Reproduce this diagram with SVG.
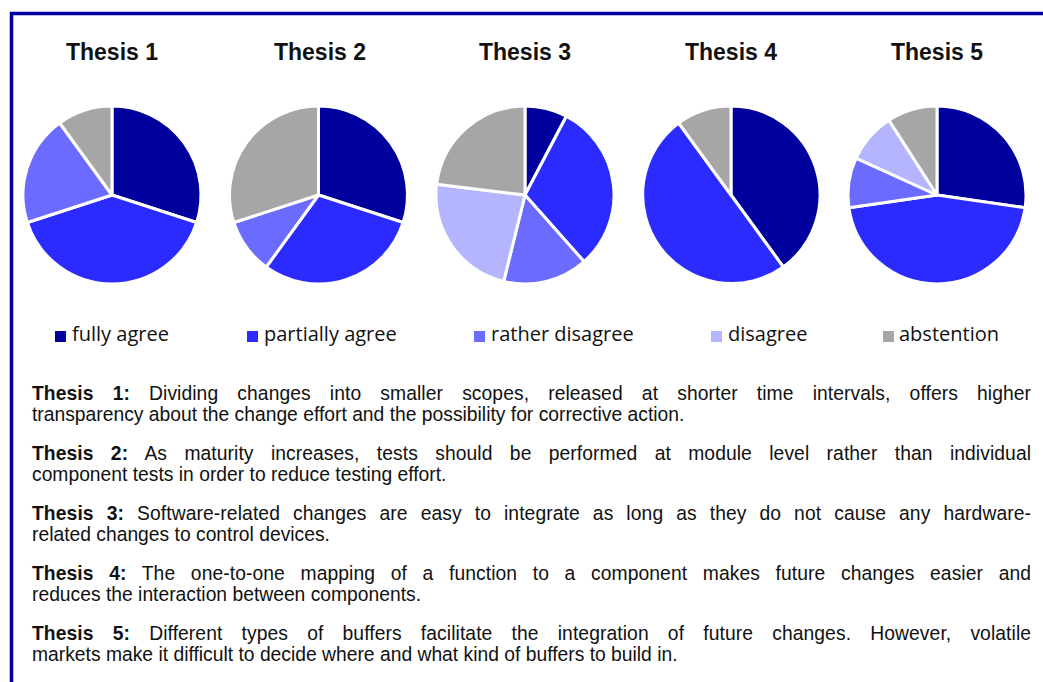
<svg xmlns="http://www.w3.org/2000/svg" width="1043" height="682" viewBox="0 0 1043 682">
<style>
.bg{fill:#ffffff}
.frame{stroke:#0000a0;stroke-width:3.5;fill:none}
.title{font-family:"Liberation Sans",Arial,sans-serif;font-weight:bold;font-size:23px;fill:#111111;text-anchor:middle}
.pie path{stroke:#ffffff;stroke-width:3;stroke-linejoin:round}
.c1{fill:#00009c}
.c2{fill:#2b2bff}
.c3{fill:#6b6bff}
.c4{fill:#b4b4ff}
.c5{fill:#a6a6a6}
.leg{font-family:"Open Sans","Liberation Sans",sans-serif;font-size:20px;fill:#111111}
.body{font-family:"Liberation Sans",Arial,sans-serif;font-size:19.3px;fill:#111111}
.b{font-weight:bold}
</style>
<rect class="bg" x="0" y="0" width="1043" height="682"/>
<g id="frame">
<path class="frame" d="M11.5,682 L11.5,13.5 L1043,13.5"/>
</g>

<g id="thesis1">
<text class="title" x="112" y="60">Thesis 1</text>
<g class="pie">
<path class="c1" d="M112,195 L112,106 A89,89 0 0 1 196.64,222.5 Z"/>
<path class="c2" d="M112,195 L196.64,222.5 A89,89 0 0 1 27.36,222.5 Z"/>
<path class="c3" d="M112,195 L27.36,222.5 A89,89 0 0 1 59.69,123 Z"/>
<path class="c5" d="M112,195 L59.69,123 A89,89 0 0 1 112,106 Z"/>
</g>
</g>

<g id="thesis2">
<text class="title" x="320" y="60">Thesis 2</text>
<g class="pie">
<path class="c1" d="M318.5,195 L318.5,106 A89,89 0 0 1 403.14,222.5 Z"/>
<path class="c2" d="M318.5,195 L403.14,222.5 A89,89 0 0 1 266.19,267 Z"/>
<path class="c3" d="M318.5,195 L266.19,267 A89,89 0 0 1 233.86,222.5 Z"/>
<path class="c5" d="M318.5,195 L233.86,222.5 A89,89 0 0 1 318.5,106 Z"/>
</g>
</g>

<g id="thesis3">
<text class="title" x="525" y="60">Thesis 3</text>
<g class="pie">
<path class="c1" d="M525,195 L525,106 A89,89 0 0 1 566.36,116.19 Z"/>
<path class="c2" d="M525,195 L566.36,116.19 A89,89 0 0 1 584.03,261.61 Z"/>
<path class="c3" d="M525,195 L584.03,261.61 A89,89 0 0 1 503.69,281.41 Z"/>
<path class="c4" d="M525,195 L503.69,281.41 A89,89 0 0 1 436.65,184.27 Z"/>
<path class="c5" d="M525,195 L436.65,184.27 A89,89 0 0 1 525,106 Z"/>
</g>
</g>

<g id="thesis4">
<text class="title" x="731" y="60">Thesis 4</text>
<g class="pie">
<path class="c1" d="M731,195 L731,106 A89,89 0 0 1 783.31,267 Z"/>
<path class="c2" d="M731,195 L783.31,267 A89,89 0 0 1 678.69,123 Z"/>
<path class="c5" d="M731,195 L678.69,123 A89,89 0 0 1 731,106 Z"/>
</g>
</g>

<g id="thesis5">
<text class="title" x="937" y="60">Thesis 5</text>
<g class="pie">
<path class="c1" d="M937,195 L937,106 A89,89 0 0 1 1025.09,207.67 Z"/>
<path class="c2" d="M937,195 L1025.09,207.67 A89,89 0 0 1 848.91,207.67 Z"/>
<path class="c3" d="M937,195 L848.91,207.67 A89,89 0 0 1 856.04,158.03 Z"/>
<path class="c4" d="M937,195 L856.04,158.03 A89,89 0 0 1 888.88,120.13 Z"/>
<path class="c5" d="M937,195 L888.88,120.13 A89,89 0 0 1 937,106 Z"/>
</g>
</g>

<g id="legend">
<rect class="c1" x="55" y="331" width="11" height="11"/>
<text class="leg" x="72" y="341">fully agree</text>
<rect class="c2" x="247" y="331" width="11" height="11"/>
<text class="leg" x="264" y="341">partially agree</text>
<rect class="c3" x="474" y="331" width="11" height="11"/>
<text class="leg" x="491" y="341">rather disagree</text>
<rect class="c4" x="711" y="331" width="11" height="11"/>
<text class="leg" x="728" y="341">disagree</text>
<rect class="c5" x="883" y="331" width="11" height="11"/>
<text class="leg" x="899" y="341">abstention</text>
</g>

<g id="descriptions">
<text class="body" x="32" y="400" word-spacing="13.7" textLength="999" lengthAdjust="spacing"><tspan class="b">Thesis 1:</tspan> Dividing changes into smaller scopes, released at shorter time intervals, offers higher</text>
<text class="body" x="32" y="421">transparency about the change effort and the possibility for corrective action.</text>
<text class="body" x="32" y="460" word-spacing="11.9" textLength="999" lengthAdjust="spacing"><tspan class="b">Thesis 2:</tspan> As maturity increases, tests should be performed at module level rather than individual</text>
<text class="body" x="32" y="481">component tests in order to reduce testing effort.</text>
<text class="body" x="32" y="520" word-spacing="7.5" textLength="999" lengthAdjust="spacing"><tspan class="b">Thesis 3:</tspan> Software-related changes are easy to integrate as long as they do not cause any hardware-</text>
<text class="body" x="32" y="541">related changes to control devices.</text>
<text class="body" x="32" y="580" word-spacing="10.2" textLength="999" lengthAdjust="spacing"><tspan class="b">Thesis 4:</tspan> The one-to-one mapping of a function to a component makes future changes easier and</text>
<text class="body" x="32" y="601">reduces the interaction between components.</text>
<text class="body" x="32" y="640" word-spacing="13.7" textLength="999" lengthAdjust="spacing"><tspan class="b">Thesis 5:</tspan> Different types of buffers facilitate the integration of future changes. However, volatile</text>
<text class="body" x="32" y="661">markets make it difficult to decide where and what kind of buffers to build in.</text>
</g>
</svg>
